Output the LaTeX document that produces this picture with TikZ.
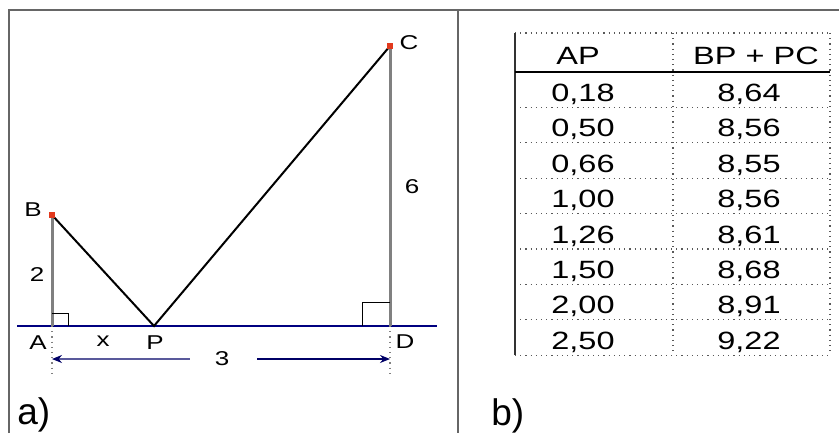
\documentclass[tikz,border=0pt]{standalone}
\usepackage{fontspec}
\setmainfont{Liberation Sans}
\newfontfamily\widefont{Liberation Sans}[FakeStretch=1.3]
\usetikzlibrary{arrows.meta, positioning, calc}

\begin{document}
\begin{tikzpicture}[
  x=0.5pt, y=-0.5pt,
  frame/.style={draw=gray!80!black, line width=1.2pt},
  leg/.style={draw=gray, line width=1.5pt},
  seg/.style={draw=black, line width=1pt},
  base/.style={draw=blue!50!black, line width=1pt},
  rangle/.style={draw=black, line width=0.5pt},
  guide/.style={draw=gray, dotted, line width=0.6pt},
  dim/.style={draw=blue!40!black, line width=0.6pt},
  dot/.style={fill=red!55!brown, inner sep=0pt, minimum size=3pt},
  lbl/.style={font=\widefont\fontsize{10}{12}\selectfont, inner sep=1pt},
  cell/.style={font=\widefont\fontsize{12.5}{14}\selectfont, anchor=base, inner sep=0pt},
  part/.style={font=\fontsize{18.5}{22}\selectfont, anchor=base west, inner sep=0pt},
  grid/.style={draw=gray!70!black, dotted, line width=0.6pt}
]
\useasboundingbox (0,0) rectangle (839,433);

% ------------------------------------------------------------
% Frame
% ------------------------------------------------------------

\coordinate (f1) at (9,433);
\coordinate (f2) at (9,10);
\coordinate (f3) at (839,10);
\coordinate (f4) at (458,10);
\coordinate (f5) at (458,433);
\draw[frame] (f1) -- (f2) -- (f3);
\draw[frame] (f4) -- (f5);

% ------------------------------------------------------------
% Points of the figure
% ------------------------------------------------------------

\coordinate (A) at (52,326);
\coordinate (B) at (52,215);
\coordinate (P) at (154,326);
\coordinate (D) at (390,326);
\coordinate (C) at (390,46);
\coordinate (L) at (17,326);
\coordinate (R) at (437,326);

\draw[base] (L) -- (R);
\draw[leg] (A) -- (B);
\draw[leg] (D) -- (C);
\draw[seg] (B) -- (P) -- (C);

\draw[rangle] ($(A)+(0,-13)$) -| ($(A)+(16,0)$);
\draw[rangle] ($(D)+(0,-24)$) -| ($(D)+(-28,0)$);

\node[dot] (b) at (B) {};
\node[dot] (c) at (C) {};

% ------------------------------------------------------------
% Dimension arrow
% ------------------------------------------------------------

\coordinate (A2) at ($(A)+(0,51)$);
\coordinate (D2) at ($(D)+(0,51)$);
\coordinate (A3) at ($(A)+(0,33)$);
\coordinate (D3) at ($(D)+(0,33)$);
\draw[guide] (A) -- (A2);
\draw[guide] (D) -- (D2);
\draw[dim, {Stealth[length=5pt,width=4pt]}-] (A3) -- ($(A3)!0.408!(D3)$);
\draw[dim, -{Stealth[length=5pt,width=4pt]}] ($(A3)!0.607!(D3)$) -- (D3);

% ------------------------------------------------------------
% Labels
% ------------------------------------------------------------

\node[lbl] (lA) at (38,343) {A};
\node[lbl] (lx) at (103,341) {x};
\node[lbl] (lP) at (155,343) {P};
\node[lbl] (lD) at (405,342) {D};
\node[lbl] (lB) at (33,210) {B};
\node[lbl] (lC) at (409,43) {C};
\node[lbl] (l2) at (37,275) {2};
\node[lbl] (l6) at (412,187) {6};
\node[lbl] (l3) at ($(A3)!0.503!(D3)$) {3};

\node[part] (pa) at (17,424) {a)};
\node[part] (pb) at (491,425) {b)};

% ------------------------------------------------------------
% Table
% ------------------------------------------------------------

\coordinate (t1) at (515,33);
\coordinate (t2) at (830,33);
\coordinate (t3) at (515,355);
\coordinate (t4) at (830,355);
\coordinate (m1) at (673,33);
\coordinate (m2) at (673,355);
\coordinate (h1) at (515,72);
\coordinate (h2) at (830,72);

\draw[grid] (t1) -- (t2);
\draw[grid] (t2) -- (t4);
\draw[grid] (m1) -- (m2);
\foreach \i in {1,...,8} {
  \draw[grid] (515,72+35.4*\i) -- (830,72+35.4*\i);
}
\draw[draw=gray!40!black, line width=0.8pt] (t1) -- (t3);
\draw[draw=black, line width=1pt] (h1) -- (h2);

\node[cell] (hAP) at (578,65) {AP};
\node[cell] (hSum) at (756,65) {BP + PC};

\foreach \ap/\bpc [count=\i] in {{0,18}/{8,64}, {0,50}/{8,56}, {0,66}/{8,55},
    {1,00}/{8,56}, {1,26}/{8,61}, {1,50}/{8,68}, {2,00}/{8,91}, {2,50}/{9,22}} {
  \node[cell] (ap\i) at (583,72+35.4*\i-6) {\ap};
  \node[cell] (bpc\i) at (749,72+35.4*\i-6) {\bpc};
}

\end{tikzpicture}
\end{document}
